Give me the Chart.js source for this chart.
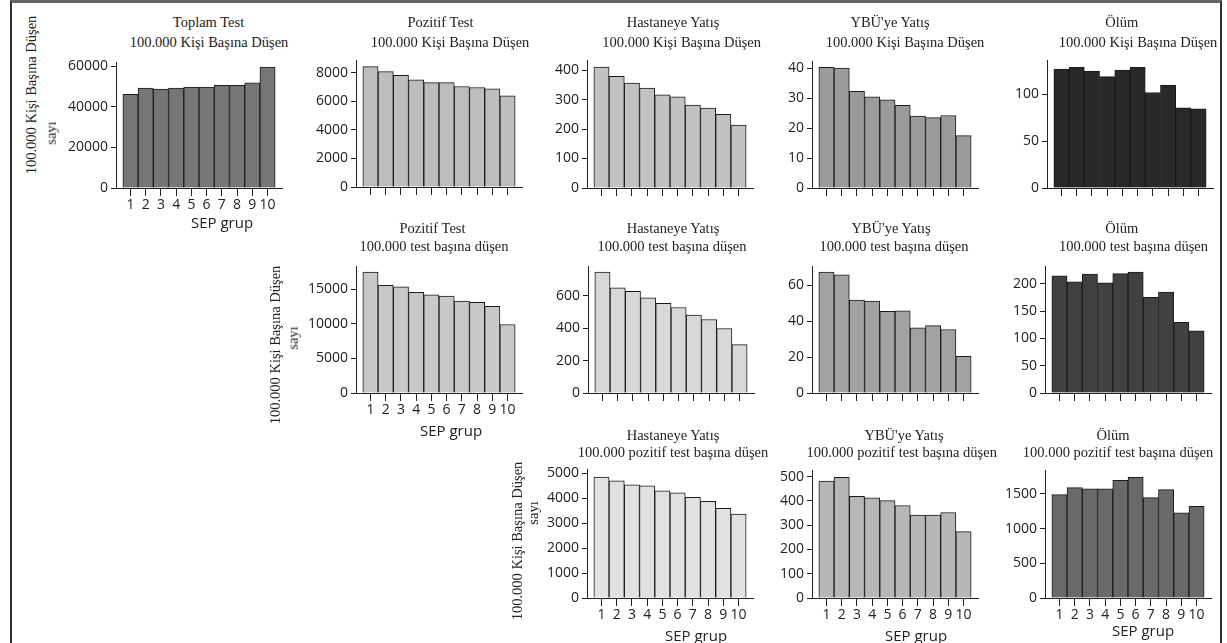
<!DOCTYPE html>
<html lang="tr">
<head>
<meta charset="utf-8">
<title>SEP grup</title>
<script src="https://cdn.jsdelivr.net/npm/chart.js@4.4.1/dist/chart.umd.min.js"></script>
<style>
  html, body { margin: 0; padding: 0; background: #fff; }
  #page { position: relative; width: 1227px; height: 643px; overflow: hidden; }
  #frame { position: absolute; left: 10px; top: 0; width: 1208px; height: 700px;
           border-left: 2px solid #333; border-right: 2px solid #333; border-top: 3px solid #666; }
  canvas { position: absolute; }
  .t { position: absolute; white-space: nowrap; line-height: 1; color: #222;
       font-family: "Liberation Serif", serif; font-size: 14.5px; transform: translate(-50%, -50%); }
  .t.rot { transform: translate(-50%, -50%) rotate(-90deg); }
  .t.sans { font-family: "Open Sans", sans-serif; font-size: 15px; }
</style>
</head>
<body>
<div id="page"><div id="frame"></div></div>
<script>
// SEP grupları
const sepGroups = [1, 2, 3, 4, 5, 6, 7, 8, 9, 10];

// 100.000 kişi başına düşen
const toplamTestKisi = [46100, 49200, 48700, 49200, 49700, 49700, 50500, 50500, 51800, 59500];
const pozitifTestKisi = [8440, 8090, 7830, 7510, 7320, 7320, 7040, 6970, 6880, 6390];
const hastaneKisi = [410, 379, 356, 339, 316, 309, 281, 271, 250, 213];
const ybuKisi = [40.3, 40.0, 32.3, 30.4, 29.4, 27.6, 24.0, 23.5, 24.2, 17.5];
const olumKisi = [127, 129, 125, 119, 126, 129, 102, 110, 85.7, 84.6];

// 100.000 test başına düşen
const pozitifTestTest = [17500, 15580, 15380, 14560, 14220, 14030, 13300, 13110, 12530, 9920];
const hastaneTest = [747, 650, 627, 588, 553, 528, 481, 454, 398, 299];
const ybuTest = [67.4, 65.9, 51.8, 51.2, 45.5, 45.8, 36.3, 37.6, 35.4, 20.5];
const olumTest = [215, 204, 218, 202, 219, 222, 175.5, 185, 129.5, 114];

// 100.000 pozitif test başına düşen
const hastanePozitif = [4850, 4700, 4540, 4500, 4300, 4220, 4040, 3880, 3600, 3360];
const ybuPozitif = [481, 497, 419, 412, 401, 381, 341, 341, 352, 273];
const olumPozitif = [1490, 1590, 1572, 1572, 1697, 1740, 1447, 1562, 1227, 1323];

// y ekseni etiketleri
const yTicks = [
  [0, 20000, 40000, 60000],
  [0, 2000, 4000, 6000, 8000],
  [0, 100, 200, 300, 400],
  [0, 10, 20, 30, 40],
  [0, 50, 100],
  [0, 5000, 10000, 15000],
  [0, 200, 400, 600],
  [0, 20, 40, 60],
  [0, 50, 100, 150, 200],
  [0, 1000, 2000, 3000, 4000, 5000],
  [0, 100, 200, 300, 400, 500],
  [0, 500, 1000, 1500]
];
// y ekseni üst sınırı (eksen çizgisinin bittiği değer)
const yMaxValues = [62000, 8900, 434, 42.4, 136.7, 18380, 784, 70.8, 233, 5172, 527, 1845];

const xLabel = 'SEP grup';
const yLabel = ['100.000 Kişi Başına Düşen', 'sayı'];

// panel yerleşimi (piksel)
const YW = 70, AREA_W = 166, PAD_T = 12, PAD_R = 10, XH = 30;
const panels = [
  { values: toplamTestKisi,  color: '#767676', axisX: 116,  yTop: 62,  yZero: 188, labels: true,
    title: [['Toplam Test', 208.5, 22], ['100.000 Kişi Başına Düşen', 209, 42]],
    sep: [222, 221.7], ylab: [[31, 95], [51, 133]] },
  { values: pozitifTestKisi, color: '#bdbdbd', axisX: 356,  yTop: 60,  yZero: 187, labels: false,
    title: [['Pozitif Test', 440.5, 22], ['100.000 Kişi Başına Düşen', 450, 42]] },
  { values: hastaneKisi,     color: '#c2c2c2', axisX: 587,  yTop: 60,  yZero: 188, labels: false,
    title: [['Hastaneye Yatış', 673, 22], ['100.000 Kişi Başına Düşen', 681.7, 42]] },
  { values: ybuKisi,         color: '#9b9b9b', axisX: 812,  yTop: 61,  yZero: 188, labels: false,
    title: [["YBÜ'ye Yatış", 890, 22], ['100.000 Kişi Başına Düşen', 905, 42]] },
  { values: olumKisi,        color: '#292929', axisX: 1047, yTop: 60,  yZero: 188, labels: false,
    title: [['Ölüm', 1121.7, 22], ['100.000 Kişi Başına Düşen', 1138, 42]] },

  { values: pozitifTestTest, color: '#c8c8c8', axisX: 356,  yTop: 266, yZero: 393, labels: true,
    title: [['Pozitif Test', 432.5, 227.5], ['100.000 test başına düşen', 434, 245.5]],
    sep: [451, 430], ylab: [[275, 344.5], [293, 337.5]] },
  { values: hastaneTest,     color: '#d8d8d8', axisX: 588,  yTop: 266, yZero: 393, labels: false,
    title: [['Hastaneye Yatış', 673, 228], ['100.000 test başına düşen', 672, 245.5]] },
  { values: ybuTest,         color: '#a2a2a2', axisX: 812,  yTop: 266, yZero: 393, labels: false,
    title: [["YBÜ'ye Yatış", 891, 228], ['100.000 test başına düşen', 894, 245.5]] },
  { values: olumTest,        color: '#414141', axisX: 1045, yTop: 266, yZero: 393, labels: false,
    title: [['Ölüm', 1121.7, 228], ['100.000 test başına düşen', 1133.5, 245.5]] },

  { values: hastanePozitif,  color: '#e1e1e1', axisX: 587,  yTop: 469, yZero: 598, labels: true,
    title: [['Hastaneye Yatış', 673, 435], ['100.000 pozitif test başına düşen', 673, 452]],
    sep: [696, 635], ylab: [[517, 541], [533, 512.5]] },
  { values: ybuPozitif,      color: '#b7b7b7', axisX: 812,  yTop: 470, yZero: 598, labels: true,
    title: [["YBÜ'ye Yatış", 904, 435], ['100.000 pozitif test başına düşen', 901.7, 452]],
    sep: [916, 635] },
  { values: olumPozitif,     color: '#696969', axisX: 1045, yTop: 470, yZero: 598, labels: true,
    title: [['Ölüm', 1113, 435], ['100.000 pozitif test başına düşen', 1118, 452]],
    sep: [1143, 630] }
];

const page = document.getElementById('page');
const axisColor = '#222';
const tickFont = { family: 'Open Sans', size: 14 };

function addText(text, x, y, cls) {
  const d = document.createElement('div');
  d.className = 't' + (cls ? ' ' + cls : '');
  d.textContent = text;
  d.style.left = x + 'px';
  d.style.top = y + 'px';
  page.appendChild(d);
}

panels.forEach((p, idx) => {
  const cv = document.createElement('canvas');
  const W = YW + AREA_W + PAD_R;
  const H = PAD_T + (p.yZero - p.yTop) + XH;
  cv.width = W;
  cv.height = H;
  cv.style.width = W + 'px';
  cv.style.height = H + 'px';
  cv.style.left = (p.axisX - YW) + 'px';
  cv.style.top = (p.yTop - PAD_T) + 'px';
  page.appendChild(cv);

  new Chart(cv, {
    type: 'bar',
    data: {
      datasets: [{
        data: sepGroups.map((g, i) => ({ x: g, y: p.values[i] })),
        backgroundColor: p.color,
        borderColor: '#1b1b1b',
        borderWidth: 1,
        borderSkipped: 'start',
        barPercentage: 1,
        categoryPercentage: 1
      }]
    },
    options: {
      responsive: false,
      animation: false,
      layout: { padding: { top: PAD_T, right: PAD_R, left: 0, bottom: 0 } },
      plugins: { legend: { display: false }, tooltip: { enabled: false }, title: { display: false } },
      scales: {
        x: {
          type: 'linear', bounds: 'data', min: 0.05, max: 10.95, offset: false,
          afterBuildTicks: s => { s.ticks = sepGroups.map(v => ({ value: v })); },
          afterFit: s => { s.height = XH; },
          grid: { offset: false, drawOnChartArea: false, drawTicks: true, tickLength: 8, color: axisColor },
          border: { display: true, color: axisColor, width: 1 },
          ticks: {
            display: p.labels, padding: 1, autoSkip: false, maxRotation: 0,
            font: tickFont, color: axisColor, callback: v => String(v)
          }
        },
        y: {
          type: 'linear', bounds: 'data', min: 0, max: yMaxValues[idx],
          afterBuildTicks: s => { s.ticks = yTicks[idx].map(v => ({ value: v })); },
          afterFit: s => { s.width = YW; },
          grid: { drawOnChartArea: false, drawTicks: true, tickLength: 5, color: axisColor },
          border: { display: true, color: axisColor, width: 1 },
          ticks: {
            padding: 3, autoSkip: false,
            font: tickFont, color: axisColor, callback: v => String(v)
          }
        }
      }
    }
  });

  p.title.forEach(([t, x, y]) => addText(t, x, y));
  if (p.sep) addText(xLabel, p.sep[0], p.sep[1], 'sans');
  if (p.ylab) {
    addText(yLabel[0], p.ylab[0][0], p.ylab[0][1], 'rot');
    addText(yLabel[1], p.ylab[1][0], p.ylab[1][1], 'rot');
  }
});
</script>
</body>
</html>
